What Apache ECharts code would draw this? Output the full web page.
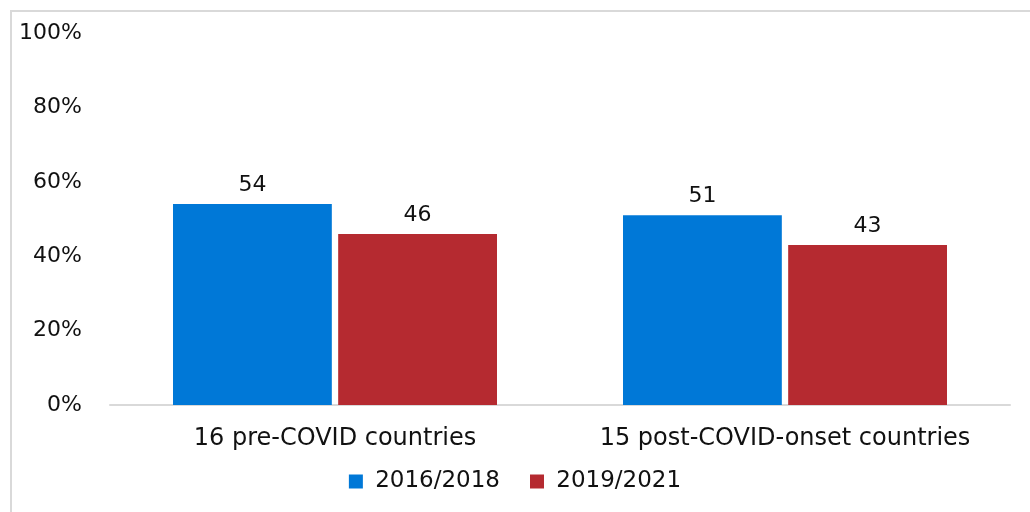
<!DOCTYPE html>
<html>
<head>
<meta charset="utf-8">
<script src="https://cdn.jsdelivr.net/npm/echarts@6/dist/echarts.min.js"></script>
<style>
  html, body { margin: 0; padding: 0; background: #fff; }
  #chart { width: 1030px; height: 512px; }
</style>
</head>
<body>
<div id="chart"></div>
<script>
const categories = ['16 pre-COVID countries', '15 post-COVID-onset countries'];
const seriesNames = ['2016/2018', '2019/2021'];
const values2016 = [54, 51];
const values2019 = [46, 43];
const yTicks = [0, 20, 40, 60, 80, 100];

const fontFamily = '"DejaVu Sans", sans-serif';
const colors = ['#0078D7', '#B52A30'];

const chart = echarts.init(document.getElementById('chart'));

function barSeries(name, data, color) {
    return {
        name: name,
        type: 'bar',
        data: data,
        barGap: '4%',
        barCategoryGap: '28%',
        itemStyle: {color: color},
        label: {
            show: true,
            position: 'top',
            distance: 8,
            color: '#111',
            fontSize: 22,
            fontFamily: fontFamily
        }
    };
}

chart.setOption({
    animation: false,
    grid: {left: 110, right: 20, top: 33, bottom: 107},
    graphic: [{
        type: 'rect',
        shape: {x: 11, y: 11, width: 1100, height: 600},
        style: {fill: 'none', stroke: '#d9d9d9', lineWidth: 2}
    }],
    legend: {
        bottom: 14,
        left: 'center',
        itemWidth: 14,
        itemHeight: 14,
        itemGap: 30,
        icon: 'rect',
        formatter: name => ' ' + name,
        textStyle: {fontSize: 23, color: '#111', fontFamily: fontFamily},
        data: seriesNames
    },
    xAxis: {
        type: 'category',
        data: categories,
        axisLine: {lineStyle: {color: '#d9d9d9', width: 2}},
        axisTick: {show: false},
        axisLabel: {interval: 0, fontSize: 24, color: '#111', fontFamily: fontFamily, margin: 22}
    },
    yAxis: {
        type: 'value',
        min: yTicks[0],
        max: yTicks[yTicks.length - 1],
        interval: 20,
        splitLine: {show: false},
        axisLine: {show: false},
        axisTick: {show: false},
        axisLabel: {
            fontSize: 22, color: '#111', fontFamily: fontFamily, margin: 28,
            formatter: v => v + '%'
        }
    },
    series: [
        barSeries(seriesNames[0], values2016, colors[0]),
        barSeries(seriesNames[1], values2019, colors[1])
    ]
});
</script>
</body>
</html>
